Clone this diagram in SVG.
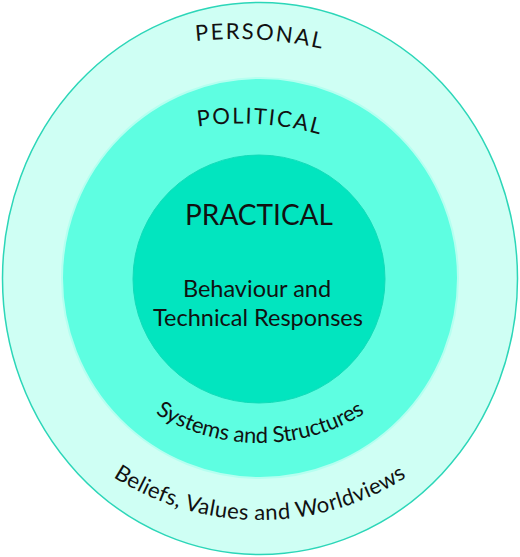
<svg xmlns="http://www.w3.org/2000/svg" xmlns:xlink="http://www.w3.org/1999/xlink" width="520" height="557" viewBox="0 0 520 557">
<style>
.lbl{font-family:Lato,"Open Sans","Liberation Sans",sans-serif;fill:#111;}
.curve{font-size:22px;}
</style>
<defs>
<path id="pPersonal" d="M 36,95.9 A 380 380 0 0 1 436,95.9"/>
<path id="pPolitical" d="M 60,183.5 A 300 300 0 0 1 420,183.5"/>
<path id="pSystems" d="M 60,243 A 200 200 0 0 0 460,243"/>
<path id="pBeliefs" d="M -12,248 A 272 272 0 0 0 532,248"/>
</defs>
<rect width="520" height="557" fill="#ffffff"/>
<g id="personal">
<ellipse cx="260" cy="278.5" rx="257.5" ry="276" fill="#cffff4" stroke="#2cd6b8" stroke-width="1.5"/>
<text class="lbl curve" font-size="26" letter-spacing="2"><textPath xlink:href="#pPersonal" startOffset="234.5" text-anchor="middle">PERSONAL</textPath></text>
<text class="lbl curve" font-size="23" letter-spacing="0.4"><textPath xlink:href="#pBeliefs" startOffset="50%" text-anchor="middle">Beliefs, Values and Worldviews</textPath></text>
</g>
<g id="political">
<ellipse cx="260" cy="278" rx="198" ry="200" fill="#5efee1" stroke="#b5fff0" stroke-width="2"/>
<text class="lbl curve" font-size="26" letter-spacing="1.8"><textPath xlink:href="#pPolitical" startOffset="213" text-anchor="middle">POLITICAL</textPath></text>
<text class="lbl curve" font-size="23" letter-spacing="-0.2"><textPath xlink:href="#pSystems" startOffset="50%" text-anchor="middle">Systems and Structures</textPath></text>
</g>
<g id="practical">
<ellipse cx="259" cy="279" rx="126" ry="124" fill="#02e5bf" stroke="#12dcb9" stroke-width="1"/>
<text class="lbl" x="259" y="225" font-size="28" text-anchor="middle">PRACTICAL</text>
<text class="lbl" x="257" y="297" font-size="23.5" text-anchor="middle">Behaviour and</text>
<text class="lbl" x="258" y="326" font-size="23.5" text-anchor="middle">Technical Responses</text>
</g>
<g id="connectors"/>
</svg>
